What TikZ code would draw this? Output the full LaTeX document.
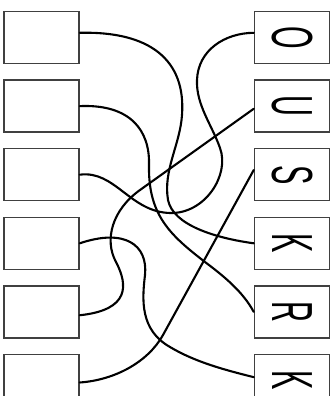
\documentclass[tikz,border=0pt]{standalone}
\usepackage{fontspec}
\setmainfont{Liberation Sans}
\usetikzlibrary{positioning}

\newcommand{\rotletter}[1]{\rotatebox{-90}{\scalebox{0.5}[1]{\fontsize{58}{58}\selectfont #1}}}

\begin{document}
\begin{tikzpicture}[x=1pt, y=-1pt,
    node distance=15.1pt and 174pt,
    box/.style={draw=black!75, line width=1.5pt, minimum width=75pt, minimum height=52pt, inner sep=0pt},
    wire/.style={line width=2.1pt, line cap=round},
]
\useasboundingbox (0,0) rectangle (336,396);
\clip (0,0) rectangle (336,396);

% Blank boxes
\node[box] (l1) at (41.5,37.5) {};
\node[box, below=of l1] (l2) {};
\node[box, below=of l2] (l3) {};
\node[box, below=of l3] (l4) {};
\node[box, below=of l4] (l5) {};
\node[box, below=of l5] (l6) {};

% Letter boxes
\node[box, right=of l1] (o) {\rotletter{O}};
\node[box, right=of l2] (u) {\rotletter{U}};
\node[box, right=of l3] (s) {\rotletter{S}};
\node[box, right=of l4] (ka) {\rotletter{K}};
\node[box, right=of l5] (r) {\rotletter{R}};
\node[box, right=of l6] (kb) {\rotletter{K}};

% Wires
\draw[wire] (l1.7) .. controls (150,31) and (186,60) .. (182,115)
    .. controls (180,145) and (163,170) .. (168,200)
    .. controls (173,225) and (215,238) .. (ka.west);
\draw[wire] (l2.east) .. controls (130,104) and (150,130) .. (149,165)
    .. controls (148,215) and (170,235) .. (205,262)
    .. controls (225,277) and (243,292) .. (r.west);
\draw[wire] (l3.east) .. controls (115,170) and (130,212) .. (170,213)
    .. controls (205,214) and (230,175) .. (220,148)
    .. controls (212,125) and (196,105) .. (197,80)
    .. controls (198,50) and (225,33) .. (o.173);
\draw[wire] (l4.east) .. controls (125,228) and (148,245) .. (145,275)
    .. controls (142,300) and (140,330) .. (170,347)
    .. controls (195,362) and (225,370) .. (kb.175);
\draw[wire] (l5.355) .. controls (130,310) and (128,285) .. (116,262)
    .. controls (104,240) and (112,210) .. (140,190) -- (u.184);
\draw[wire] (l6.357) .. controls (115,380) and (148,362) .. (163,335) -- (s.173);
\end{tikzpicture}
\end{document}
